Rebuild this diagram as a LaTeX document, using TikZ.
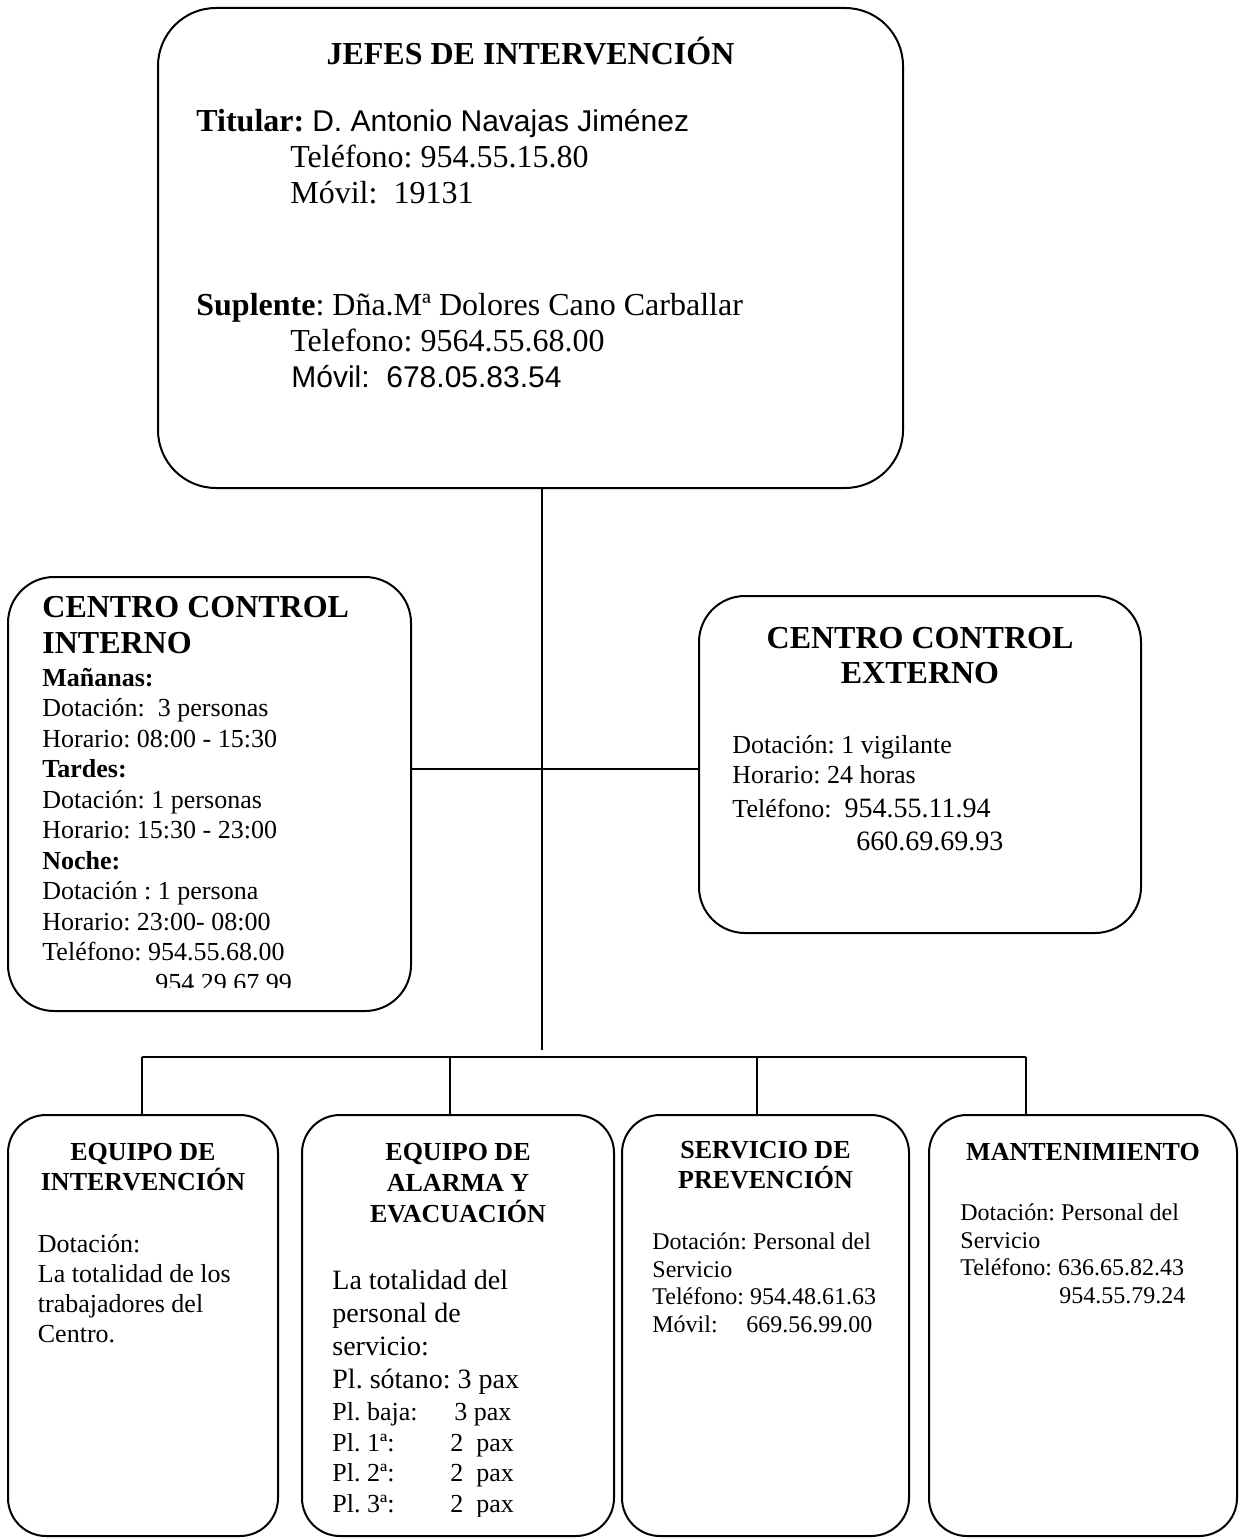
\documentclass[tikz,border=0pt]{standalone}
\usepackage{fontspec}
\setmainfont{Liberation Serif}
\newfontfamily\arialfont{Liberation Sans}
\newcommand\setfs[2]{\fontsize{#1}{#2}\selectfont}
\frenchspacing
\tikzset{
  caja/.style={draw, line width=1pt, inner sep=0pt},
  conector/.style={line width=1pt},
  texto/.style={anchor=base west, inner sep=0pt, align=left},
  titulo/.style={anchor=base, inner sep=0pt, align=center},
}

\begin{document}
\begin{tikzpicture}[x=0.5pt,y=-0.5pt]
\useasboundingbox (0,0) rectangle (1240,1540);

% cajas
\node[caja, rounded corners=29pt, minimum width=372.5pt, minimum height=240pt] (jefes) at (530.5,248) {};
\node[caja, rounded corners=23pt, minimum width=201.5pt, minimum height=217pt] (cci) at (209.5,794) {};
\node[caja, rounded corners=23pt, minimum width=221pt, minimum height=168.5pt] (cce) at (920,764.5) {};
\node[caja, rounded corners=19pt, minimum width=135pt, minimum height=210.5pt] (eqint) at (143,1325.5) {};
\node[caja, rounded corners=19pt, minimum width=156pt, minimum height=210.5pt] (eqalarma) at (458,1325.5) {};
\node[caja, rounded corners=19pt, minimum width=143.5pt, minimum height=210.5pt] (servprev) at (765.5,1325.5) {};
\node[caja, rounded corners=19pt, minimum width=154pt, minimum height=210.5pt] (mant) at (1083,1325.5) {};

% conectores
\coordinate (tronco) at (541.5,1050);
\coordinate (cruce) at (541.5,769);
\draw[conector] (jefes.south -| tronco) -- (tronco);
\draw[conector] (cci.east |- cruce) -- (cce.west |- cruce);
\coordinate (bus1) at (142,1057);
\coordinate (bus2) at (450,1057);
\coordinate (bus3) at (757,1057);
\coordinate (bus4) at (1026,1057);
\draw[conector] (bus1) -- (bus4);
\foreach \b/\c in {bus1/eqint, bus2/eqalarma, bus3/servprev, bus4/mant}
  \draw[conector] (\b) -- (\b |- \c.north);

% jefes de intervencion (base = ultima linea)
\node[titulo, font=\setfs{16}{18}\bfseries] (tjefes) at (530.5,65) {JEFES DE INTERVENCIÓN};
\node[texto, font=\setfs{16}{18}] (titular) at (196,204) {\textbf{Titular:} {\arialfont\setfs{15}{18}D. Antonio Navajas Jiménez}\\
  \hspace*{47pt}Teléfono: 954.55.15.80\\
  \hspace*{47pt}Móvil:\ \ 19131};
\node[texto, font=\setfs{16}{18}] (suplente) at (196,387) {\textbf{Suplente}: Dña.Mª Dolores Cano Carballar\\
  \hspace*{47pt}Telefono: 9564.55.68.00\\
  \hspace*{47.5pt}{\arialfont\setfs{15}{18}Móvil:\ \ 678.05.83.54}};

% centro control interno
\node[texto, font=\setfs{16}{18}\bfseries] (tcci) at (42,653) {CENTRO CONTROL\\INTERNO};
\begin{scope}
  \clip (0,0) rectangle (1240,987);
  \node[texto, font=\setfs{13}{15.25}] (turnos) at (42,991) {\textbf{Mañanas:}\\
    Dotación:\ \ 3 personas\\
    Horario: 08:00 - 15:30\\
    \textbf{Tardes:}\\
    Dotación: 1 personas\\
    Horario: 15:30 - 23:00\\
    \textbf{Noche:}\\
    Dotación : 1 persona\\
    Horario: 23:00- 08:00\\
    Teléfono: 954.55.68.00\\
    \hspace*{56.5pt}954.29.67.99};
\end{scope}

% centro control externo
\node[titulo, font=\setfs{16}{17.5}\bfseries] (tcce) at (920,683) {CENTRO CONTROL\\EXTERNO};
\node[texto, font=\setfs{13}{15}] (vigilante) at (732,850) {Dotación: 1 vigilante\\
  Horario: 24 horas\\[2pt]
  Teléfono:\ \ {\setfs{14}{16}954.55.11.94}\\[1.5pt]
  \hspace*{62pt}{\setfs{14}{16}660.69.69.93}};

% equipos
\node[titulo, font=\setfs{13}{15}\bfseries] (teqint) at (143,1190) {EQUIPO DE\\INTERVENCIÓN};
\node[texto, font=\setfs{13}{15}] (dotint) at (37.5,1342) {Dotación:\\La totalidad de los\\trabajadores del\\Centro.};

\node[titulo, font=\setfs{13}{15.5}\bfseries] (teqalarma) at (458,1222) {EQUIPO DE\\ALARMA Y\\EVACUACIÓN};
\begin{scope}
  \clip (0,0) rectangle (1240,1516);
  \node[texto, font=\setfs{14}{16.5}] (dotalarma) at (332,1388) {La totalidad del\\personal de\\servicio:\\Pl. sótano: 3 pax};
  \node[texto, font=\setfs{13}{15.25}] (plantas) at (332,1512) {\makebox[61pt][l]{Pl. baja:}3 pax\\
    \makebox[59pt][l]{Pl. 1ª:}2\ \ pax\\
    \makebox[59pt][l]{Pl. 2ª:}2\ \ pax\\
    \makebox[59pt][l]{Pl. 3ª:}2\ \ pax};
\end{scope}

\node[titulo, font=\setfs{13}{15}\bfseries] (tservprev) at (765.5,1188) {SERVICIO DE\\PREVENCIÓN};
\node[texto, font=\setfs{12}{13.75}] (dotservprev) at (652,1332) {Dotación: Personal del\\Servicio\\Teléfono: 954.48.61.63\\\makebox[47pt][l]{Móvil:}669.56.99.00};

\node[titulo, font=\setfs{13}{15}\bfseries] (tmant) at (1083,1160) {MANTENIMIENTO};
\node[texto, font=\setfs{12}{13.75}] (dotmant) at (960,1303) {Dotación: Personal del\\Servicio\\Teléfono: 636.65.82.43\\\hspace*{49.5pt}954.55.79.24};
\end{tikzpicture}
\end{document}
